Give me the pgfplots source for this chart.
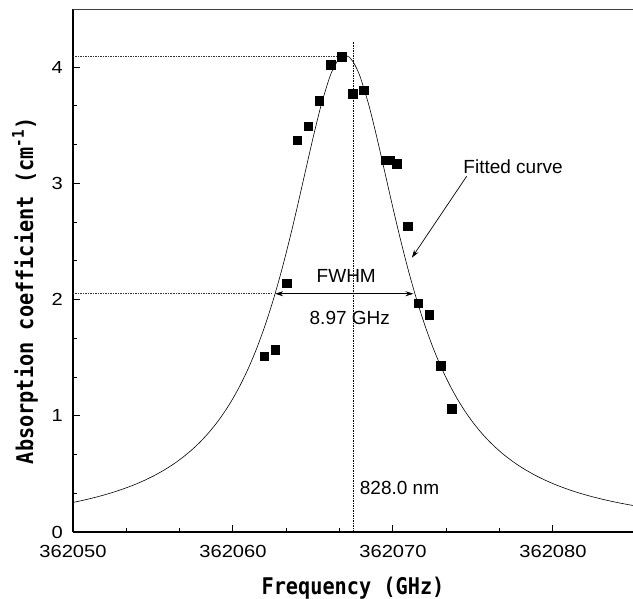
\documentclass[border=0pt]{standalone}
\usepackage{pgfplots}
\pgfplotsset{compat=1.18}
\usepackage{fontspec}
\setmainfont{Liberation Sans}
\newfontfamily\tickfont[FakeStretch=1.15]{Liberation Sans}
\newfontfamily\labfont[FakeStretch=0.88]{DejaVu Sans Mono}
\usetikzlibrary{calc,arrows.meta}

% x values are given as (frequency - 362000) GHz
\pgfplotstableread{
x y
61.95 1.51
62.63 1.57
63.36 2.14
64.02 3.37
64.70 3.49
65.39 3.71
66.10 4.02
66.80 4.09
67.49 3.77
68.17 3.80
69.52 3.20
69.83 3.20
70.24 3.17
70.93 2.63
71.59 1.97
72.28 1.87
72.98 1.43
73.66 1.06
}\measured

\pgfplotstableread{
x y
50 0.2541
50.5 0.2687
51 0.2846
51.5 0.3019
52 0.3208
52.5 0.3414
53 0.3640
53.5 0.3889
54 0.4162
54.5 0.4465
55 0.4801
55.5 0.5174
56 0.5589
56.5 0.6053
57 0.6575
57.5 0.7160
58 0.7822
58.5 0.8572
59 0.9423
59.5 1.0392
60 1.1498
60.5 1.2763
61 1.4211
61.5 1.5867
62 1.7756
62.5 1.9899
63 2.2309
63.5 2.4977
64 2.7867
64.5 3.0890
65 3.3899
65.5 3.6679
66 3.8960
66.25 3.9827
66.5 4.0470
66.75 4.0866
67 4.1000
67.25 4.0866
67.5 4.0470
67.75 3.9827
68 3.8960
68.5 3.6679
69 3.3899
69.5 3.0890
70 2.7867
70.5 2.4977
71 2.2309
71.5 1.9899
72 1.7756
72.5 1.5867
73 1.4211
73.5 1.2763
74 1.1498
74.5 1.0392
75 0.9423
75.5 0.8572
76 0.7822
76.5 0.7160
77 0.6575
77.5 0.6053
78 0.5589
78.5 0.5174
79 0.4801
79.5 0.4465
80 0.4162
80.5 0.3889
81 0.3640
81.5 0.3414
82 0.3208
82.5 0.3019
83 0.2846
83.5 0.2687
84 0.2541
84.5 0.2407
85 0.2282
}\fitted

\begin{document}
\begin{tikzpicture}
\begin{axis}[
  name=ax,
  at={(0,0)}, anchor=south west,
  scale only axis, width=560pt, height=523pt,
  xmin=50, xmax=85, ymin=0, ymax=4.5,
  axis x line*=bottom, axis y line*=left,
  axis line style={line width=1.2pt,-},
  xtick={50,60,70,80}, xticklabels={362050,362060,362070,362080},
  ytick={0,1,2,3,4}, yticklabels={0,1,2,3,4},
  minor x tick num=2, minor y tick num=2,
  tick align=inside,
  major tick length=7pt, minor tick length=4pt,
  tick style={line width=1pt, black},
  ticklabel style={font=\tickfont\fontsize{17.5}{20}\selectfont},
  xticklabel style={anchor=north, inner sep=0pt, yshift=-13pt},
  yticklabel style={anchor=east, inner sep=0pt, xshift=-10pt},
  xlabel={Frequency (GHz)},
  ylabel={Absorption coefficient (cm\textsuperscript{-1})},
  label style={font=\labfont\bfseries\fontsize{23}{26}\selectfont},
  xlabel style={at={(axis description cs:0.5,-0.107)}, anchor=center},
  ylabel style={at={(axis description cs:-0.0857,0.461)}, anchor=center},
  clip=false,
]
\draw[line width=0.8pt, black!75] (rel axis cs:0,1) -- (rel axis cs:1,1);
\addplot[black, line width=0.6pt, smooth, no markers] table[x=x,y=y] {\fitted};
\addplot[only marks, mark=square*, mark size=4.2pt, black] table[x=x,y=y] {\measured};
% guide lines
\draw[black!80, line width=0.7pt, dash pattern=on 1.5pt off 1pt] (axis cs:50,4.09) -- (axis cs:66.6,4.09);
\draw[black!80, line width=0.7pt, dash pattern=on 1.5pt off 1pt] (axis cs:50,2.05) -- (axis cs:62.5,2.05);
\draw[black, line width=0.8pt, dash pattern=on 1.5pt off 1pt] (axis cs:67.5,0) -- (axis cs:67.5,4.22);
\draw[black, line width=0.7pt, {Stealth[length=8pt,width=5pt]}-{Stealth[length=8pt,width=5pt]}] (axis cs:62.63,2.05) -- (axis cs:71.28,2.05);
\node[font=\fontsize{19}{22}\selectfont, anchor=center] at (axis cs:67.08,2.20) {FWHM};
\node[font=\fontsize{19}{22}\selectfont, anchor=center] at (axis cs:67.30,1.84) {8.97 GHz};
\node[font=\fontsize{19}{22}\selectfont, anchor=west, inner sep=0pt] at (axis cs:67.92,0.38) {828.0 nm};
\node[font=\fontsize{19}{22}\selectfont, anchor=west, inner sep=0pt] at (axis cs:74.39,3.14) {Fitted curve};
\draw[black, line width=0.7pt, -{Stealth[length=8pt,width=5pt]}] (axis cs:74.60,3.06) -- (axis cs:71.18,2.36);
\end{axis}
\pgfresetboundingbox
\path[use as bounding box] ($(ax.south west)+(-73pt,-67pt)$) rectangle ($(ax.south west)+(560pt,532pt)$);
\end{tikzpicture}
\end{document}
